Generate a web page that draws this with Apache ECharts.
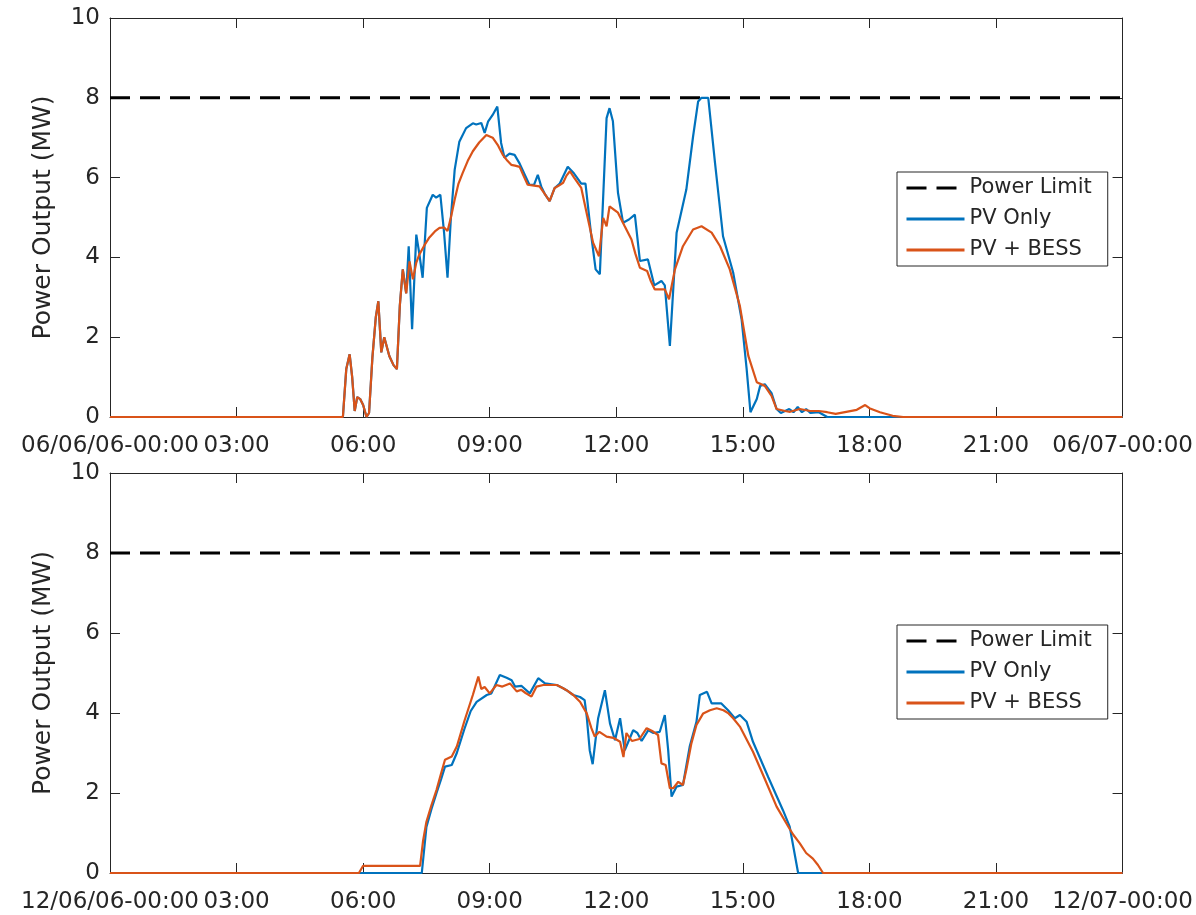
<!DOCTYPE html>
<html>
<head>
<meta charset="utf-8">
<script src="https://cdn.jsdelivr.net/npm/echarts@6/dist/echarts.min.js"></script>
<style>html,body{margin:0;padding:0;background:#fff}#c{width:1196px;height:915px}</style>
</head>
<body>
<div id="c"></div>
<script>
// ---- tick labels ----
var topTickLabels = ["06/06/06-00:00","03:00","06:00","09:00","12:00","15:00","18:00","21:00","06/07-00:00"];
var botTickLabels = ["12/06/06-00:00","03:00","06:00","09:00","12:00","15:00","18:00","21:00","12/07-00:00"];
var yTicks = [0,2,4,6,8,10];
var powerLimit = 8;
var dayHours = [0, 24];

// ---- top panel (June) ----
var topPvHours = [0,5.52,5.6,5.68,5.74,5.8,5.86,5.93,6.0,6.08,6.14,6.22,6.3,6.36,6.43,6.5,6.62,6.72,6.8,6.87,6.94,7.02,7.08,7.16,7.26,7.33,7.41,7.51,7.65,7.73,7.83,7.92,8.0,8.08,8.17,8.28,8.44,8.6,8.68,8.8,8.88,8.96,9.07,9.18,9.27,9.35,9.47,9.59,9.71,9.94,10.05,10.14,10.22,10.3,10.42,10.54,10.66,10.85,11.0,11.17,11.27,11.4,11.51,11.61,11.77,11.84,11.92,12.04,12.16,12.3,12.44,12.56,12.75,12.9,13.07,13.15,13.27,13.43,13.66,13.82,13.94,14.02,14.18,14.34,14.53,14.77,14.97,15.09,15.18,15.33,15.41,15.52,15.68,15.8,15.9,16.0,16.1,16.2,16.3,16.4,16.5,16.6,16.8,17.0,24];
var topPvValues = [0,0,1.2,1.57,1.0,0.15,0.5,0.45,0.3,0,0.1,1.5,2.5,2.9,1.62,2.0,1.53,1.3,1.2,2.8,3.7,3.1,4.28,2.2,4.57,4.1,3.49,5.24,5.57,5.5,5.57,4.6,3.49,5.0,6.2,6.9,7.24,7.36,7.33,7.37,7.12,7.4,7.57,7.78,6.87,6.5,6.6,6.57,6.35,5.82,5.82,6.07,5.78,5.6,5.41,5.74,5.85,6.27,6.1,5.85,5.85,4.6,3.7,3.58,7.49,7.74,7.41,5.62,4.87,4.95,5.07,3.91,3.95,3.3,3.41,3.3,1.78,4.62,5.7,7.03,7.91,8.0,8.0,6.37,4.53,3.62,2.45,1.2,0.12,0.45,0.78,0.82,0.6,0.2,0.1,0.15,0.2,0.12,0.25,0.12,0.2,0.1,0.12,0,0];
var topBessHours = [0,5.52,5.6,5.68,5.74,5.8,5.86,5.93,6.0,6.08,6.14,6.22,6.3,6.36,6.43,6.5,6.62,6.72,6.8,6.87,6.94,7.02,7.1,7.18,7.26,7.33,7.45,7.57,7.7,7.81,7.92,8.0,8.08,8.17,8.26,8.36,8.48,8.6,8.75,8.92,9.07,9.2,9.31,9.42,9.51,9.6,9.71,9.8,9.9,10.05,10.18,10.3,10.42,10.54,10.64,10.74,10.82,10.9,11.0,11.17,11.3,11.45,11.59,11.69,11.77,11.84,12.04,12.2,12.36,12.45,12.56,12.73,12.82,12.91,13.15,13.25,13.39,13.58,13.82,14.02,14.26,14.46,14.69,14.93,15.13,15.33,15.52,15.68,15.8,16.0,16.12,16.35,16.6,16.8,17.0,17.2,17.45,17.7,17.9,18.0,18.25,18.55,18.8,24];
var topBessValues = [0,0,1.2,1.57,1.0,0.15,0.5,0.45,0.3,0,0.1,1.5,2.5,2.9,1.62,2.0,1.53,1.3,1.2,2.8,3.7,3.1,3.9,3.45,3.87,4.07,4.3,4.5,4.65,4.74,4.75,4.66,5.0,5.45,5.85,6.12,6.42,6.66,6.88,7.07,7.0,6.8,6.57,6.42,6.32,6.3,6.27,6.05,5.82,5.8,5.78,5.6,5.41,5.74,5.8,5.87,6.05,6.16,6.0,5.74,5.1,4.37,4.03,4.99,4.78,5.28,5.12,4.78,4.45,4.1,3.74,3.66,3.4,3.2,3.2,2.95,3.7,4.28,4.7,4.78,4.62,4.28,3.7,2.78,1.53,0.87,0.78,0.53,0.2,0.15,0.13,0.2,0.15,0.15,0.12,0.08,0.13,0.18,0.3,0.22,0.12,0.03,0,0];

// ---- bottom panel (December) ----
var botPvHours = [0,7.39,7.5,7.62,7.74,7.85,7.94,8.1,8.22,8.4,8.55,8.69,8.93,9.04,9.24,9.4,9.52,9.6,9.75,9.95,10.15,10.31,10.59,10.74,10.82,10.98,11.14,11.25,11.3,11.37,11.44,11.57,11.73,11.85,11.97,12.09,12.2,12.4,12.5,12.6,12.76,12.88,13.03,13.15,13.23,13.31,13.43,13.58,13.74,13.9,13.98,14.15,14.26,14.49,14.65,14.81,14.93,15.09,15.24,15.6,15.95,16.11,16.31,24];
var botPvValues = [0,0,1.15,1.6,2.0,2.35,2.66,2.7,3.0,3.6,4.05,4.28,4.45,4.49,4.95,4.88,4.82,4.66,4.68,4.49,4.87,4.74,4.7,4.62,4.57,4.45,4.4,4.32,3.9,3.07,2.72,3.87,4.57,3.74,3.32,3.87,3.07,3.57,3.5,3.3,3.57,3.5,3.53,3.95,3.07,1.91,2.16,2.2,3.16,3.78,4.45,4.53,4.24,4.24,4.07,3.87,3.95,3.78,3.28,2.4,1.57,1.16,0,0];
var botBessHours = [0,5.9,6.0,7.35,7.42,7.5,7.62,7.74,7.85,7.94,8.1,8.22,8.4,8.6,8.73,8.8,8.88,9.0,9.16,9.3,9.48,9.64,9.75,9.85,9.99,10.11,10.27,10.59,10.74,10.82,10.98,11.14,11.3,11.41,11.49,11.6,11.77,11.93,12.09,12.17,12.24,12.37,12.55,12.72,12.85,12.99,13.07,13.17,13.27,13.35,13.47,13.58,13.66,13.78,13.9,14.06,14.22,14.38,14.54,14.66,14.77,14.93,15.24,15.5,15.8,16.11,16.2,16.35,16.5,16.66,16.78,16.9,24];
var botBessValues = [0,0,0.18,0.18,0.8,1.28,1.7,2.08,2.5,2.83,2.91,3.16,3.8,4.45,4.91,4.6,4.65,4.49,4.7,4.66,4.74,4.54,4.58,4.5,4.41,4.66,4.7,4.7,4.62,4.57,4.45,4.28,3.99,3.62,3.41,3.53,3.41,3.38,3.28,2.9,3.5,3.3,3.35,3.62,3.55,3.45,2.74,2.7,2.12,2.12,2.28,2.2,2.58,3.24,3.7,3.99,4.07,4.12,4.07,3.99,3.87,3.66,3.03,2.4,1.66,1.1,0.95,0.74,0.5,0.36,0.2,0,0];

function zip(h, v) { return h.map(function (x, i) { return [x, v[i]]; }); }

var FONT = 'DejaVu Sans';
var INK = '#262626';
var BLUE = '#0072BD';
var ORANGE = '#D95319';

function xAxisFor(grid, labels, top) {
  return {
    type: 'value', gridIndex: grid, min: 0, max: 24, interval: 3,
    position: top ? 'top' : 'bottom',
    axisLine: { show: true, onZero: false, lineStyle: { color: INK, width: 1 } },
    axisTick: { show: true, inside: true, length: 10, lineStyle: { color: INK, width: 1 } },
    splitLine: { show: false },
    axisLabel: top ? { show: false } : {
      show: true, color: INK, fontFamily: FONT, fontSize: 23, margin: 18,
      showMinLabel: true, showMaxLabel: true,
      formatter: function (v) { return labels[Math.round(v / 3)]; }
    }
  };
}
function yAxisFor(grid, right) {
  var ax = {
    type: 'value', gridIndex: grid, min: yTicks[0], max: yTicks[yTicks.length - 1], interval: 2,
    position: right ? 'right' : 'left',
    axisLine: { show: true, onZero: false, lineStyle: { color: INK, width: 1 } },
    axisTick: { show: true, inside: true, length: 10, lineStyle: { color: INK, width: 1 } },
    splitLine: { show: false },
    axisLabel: right ? { show: false } : { show: true, color: INK, fontFamily: FONT, fontSize: 23, margin: 10 }
  };
  if (!right) {
    ax.name = 'Power Output (MW)';
    ax.nameLocation = 'middle';
    ax.nameGap = 54;
    ax.nameTextStyle = { color: INK, fontFamily: FONT, fontSize: 25 };
  }
  return ax;
}
function legendFor(top) {
  return {
    orient: 'vertical', left: 897, top: top,
    data: ['Power Limit', 'PV Only', 'PV + BESS'],
    itemWidth: 58, itemHeight: 4, itemGap: 7,
    padding: [4, 16, 4, 8],
    borderColor: INK, borderWidth: 1, backgroundColor: '#fff',
    itemStyle: { color: 'rgba(0,0,0,0)', borderColor: 'rgba(0,0,0,0)', borderWidth: 0 },
    lineStyle: { width: 3 },
    textStyle: { color: INK, fontFamily: FONT, fontSize: 21, lineHeight: 24 },
    selectedMode: false
  };
}
function limitSeries(xi) {
  return {
    name: 'Power Limit', type: 'line', xAxisIndex: xi, yAxisIndex: xi, symbol: 'none',
    data: zip(dayHours, dayHours.map(function () { return powerLimit; })),
    lineStyle: { color: '#000', width: 3, type: [20, 10] }, itemStyle: { color: '#000' }, z: 2
  };
}
function dataSeries(name, xi, h, v, color, z) {
  return {
    name: name, type: 'line', xAxisIndex: xi, yAxisIndex: xi, symbol: 'none',
    data: zip(h, v), lineStyle: { color: color, width: 2.2 }, itemStyle: { color: color }, z: z
  };
}

var option = {
  animation: false,
  backgroundColor: '#fff',
  grid: [
    { left: 110, top: 18, width: 1013, height: 399 },
    { left: 110, top: 473, width: 1013, height: 400 }
  ],
  xAxis: [xAxisFor(0, topTickLabels, false), xAxisFor(1, botTickLabels, false), xAxisFor(0, topTickLabels, true), xAxisFor(1, botTickLabels, true)],
  yAxis: [yAxisFor(0, false), yAxisFor(1, false), yAxisFor(0, true), yAxisFor(1, true)],
  legend: [legendFor(172), legendFor(625)],
  series: [
    limitSeries(0),
    dataSeries('PV Only', 0, topPvHours, topPvValues, BLUE, 3),
    dataSeries('PV + BESS', 0, topBessHours, topBessValues, ORANGE, 4),
    limitSeries(1),
    dataSeries('PV Only', 1, botPvHours, botPvValues, BLUE, 3),
    dataSeries('PV + BESS', 1, botBessHours, botBessValues, ORANGE, 4)
  ]
};
var chart = echarts.init(document.getElementById('c'), null, { renderer: 'canvas' });
chart.setOption(option);
</script>
</body>
</html>
